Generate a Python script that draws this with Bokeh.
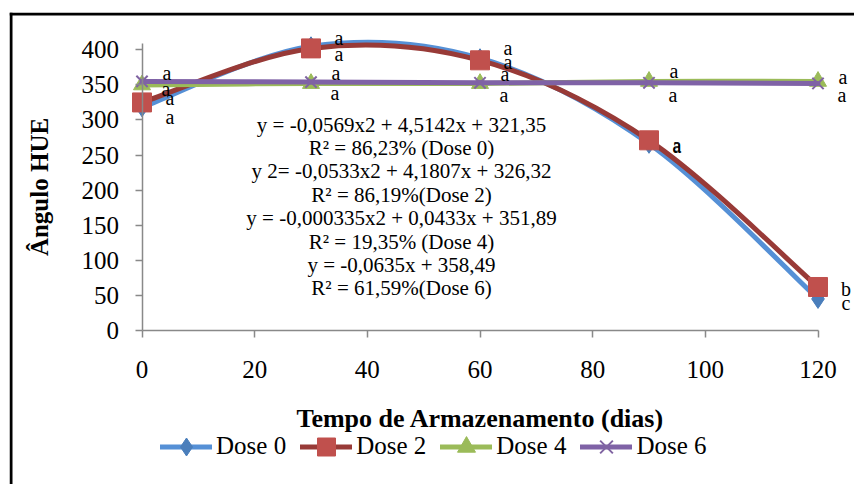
from bokeh.plotting import figure
from bokeh.models import (ColumnDataSource, LinearAxis, FixedTicker, Range1d,
                          Legend, LegendItem, Span)
from bokeh.core.properties import value
from bokeh.embed import file_html
from bokeh.resources import INLINE

# ---------------- data ----------------
days = [0, 30, 60, 90, 120]
dose0 = [318, 405, 388, 266, 45]
dose2 = [325, 402, 385, 271, 62]
dose4 = [350, 352, 352, 355, 355]
dose6 = [355, 354, 353, 353, 352]
letters0 = ["a", "a", "a", "a", "c"]
letters2 = ["a", "a", "a", "a", "b"]
letters4 = ["a", "a", "a", "a", "a"]
letters6 = ["a", "a", "a", "a", "a"]
series_names = ["Dose 0", "Dose 2", "Dose 4", "Dose 6"]
x_ticks = [0, 20, 40, 60, 80, 100, 120]
y_ticks = [0, 50, 100, 150, 200, 250, 300, 350, 400]
eq_lines = [
    "y = -0,0569x2 + 4,5142x + 321,35",
    "R\u00b2 = 86,23% (Dose 0)",
    "y 2= -0,0533x2 + 4,1807x + 326,32",
    "R\u00b2 = 86,19%(Dose 2)",
    "y = -0,000335x2 + 0,0433x + 351,89",
    "R\u00b2 = 19,35% (Dose 4)",
    "y = -0,0635x + 358,49",
    "R\u00b2 = 61,59%(Dose 6)",
]
x_title = "Tempo de Armazenamento (dias)"
y_title = "\u00c2ngulo HUE"

# ---------------- layout / style ----------------
W, H = 854, 484
FRAME_L, FRAME_T = 9, 12
X0_PX, X120_PX = 141.5, 817.5
Y0_PX, Y400_PX = 330.0, 49.3
SX = (X120_PX - X0_PX) / 120.0
SY = (Y0_PX - Y400_PX) / 400.0
Y_AXIS_TOP = (Y0_PX - 43) / SY
FONT = "Liberation Serif"
BORDER_W = 3

line_colors = ["#5590d6", "#983a37", "#9bbb59", "#7f62a6"]
marker_colors = ["#4a7ebb", "#c0504d", "#9bbb59", "#8064a2"]
markers = ["diamond", "square", "triangle", "x"]
marker_sizes = [19, 19, 17, 16]
label_dx = [28, 28, 24, 25]
label_dy = [[10, -8, -10, 2, 4],
            [-4, 6, 2, 5, 2],
            [4, 10, 12, 14, 14],
            [-8, -9, -9, -12, -6]]

x_rng = Range1d(-(X0_PX - FRAME_L) / SX, (W - X0_PX) / SX)
y_rng = Range1d(-(H - Y0_PX) / SY, (Y0_PX - FRAME_T) / SY)
p = figure(width=W, height=H, output_backend="svg", toolbar_location=None,
           title=None, x_axis_type=None, y_axis_type=None,
           x_range=x_rng, y_range=y_rng,
           min_border_left=FRAME_L, min_border_top=FRAME_T,
           min_border_right=0, min_border_bottom=0)
p.xgrid.visible = False
p.ygrid.visible = False
p.outline_line_color = None
p.background_fill_color = "white"
p.border_fill_color = "white"

# chart-area border (only its left and top sides fall inside the picture)
p.add_layout(Span(location=x_rng.start + (BORDER_W / 2) / SX, dimension="height",
                  line_color="black", line_width=BORDER_W))
p.add_layout(Span(location=y_rng.end - (BORDER_W / 2) / SY, dimension="width",
                  line_color="black", line_width=BORDER_W))

def style_axis(ax):
    ax.axis_line_color = "#898989"
    ax.axis_line_width = 1.5
    ax.major_tick_line_color = "#898989"
    ax.major_tick_line_width = 1.5
    ax.major_tick_in = 0
    ax.major_tick_out = 7
    ax.minor_tick_line_color = None
    ax.major_label_text_font = FONT
    ax.major_label_text_font_size = "25px"
    ax.major_label_text_color = "black"
    ax.axis_label_text_font = FONT
    ax.axis_label_text_font_style = "bold"
    ax.axis_label_text_color = "black"

xaxis = LinearAxis(fixed_location=0, bounds=(0, 120),
                   ticker=FixedTicker(ticks=x_ticks), axis_label=x_title)
style_axis(xaxis)
xaxis.major_label_standoff = 23
xaxis.axis_label_standoff = 23
xaxis.axis_label_text_font_size = "26px"
p.add_layout(xaxis, "below")

yaxis = LinearAxis(fixed_location=0, bounds=(0, Y_AXIS_TOP),
                   ticker=FixedTicker(ticks=y_ticks), axis_label=y_title)
style_axis(yaxis)
yaxis.major_label_standoff = 16
yaxis.axis_label_standoff = 26
yaxis.axis_label_text_font_size = "25px"
p.add_layout(yaxis, "left")


def smooth_segments(xs, ys):
    # Bezier control points for a smoothed (Catmull-Rom style) line through the points
    n = len(xs)
    out = dict(x0=[], y0=[], x1=[], y1=[], cx0=[], cy0=[], cx1=[], cy1=[])
    for i in range(n - 1):
        a = max(i - 1, 0)
        d = min(i + 2, n - 1)
        out["x0"].append(xs[i]); out["y0"].append(ys[i])
        out["x1"].append(xs[i + 1]); out["y1"].append(ys[i + 1])
        out["cx0"].append(xs[i] + (xs[i + 1] - xs[a]) / 6.0)
        out["cy0"].append(ys[i] + (ys[i + 1] - ys[a]) / 6.0)
        out["cx1"].append(xs[i + 1] - (xs[d] - xs[i]) / 6.0)
        out["cy1"].append(ys[i + 1] - (ys[d] - ys[i]) / 6.0)
    return out

all_series = [dose0, dose2, dose4, dose6]
all_letters = [letters0, letters2, letters4, letters6]
items = []
for k, ys in enumerate(all_series):
    seg = ColumnDataSource(smooth_segments(days, ys))
    lr = p.bezier(x0="x0", y0="y0", x1="x1", y1="y1", cx0="cx0", cy0="cy0",
                  cx1="cx1", cy1="cy1", source=seg, line_color=line_colors[k],
                  line_width=5, line_cap="round")
    pts = ColumnDataSource(dict(x=days, y=ys))
    if markers[k] == "x":
        mr = p.scatter(x="x", y="y", source=pts, marker="x", size=marker_sizes[k],
                       line_color=marker_colors[k], line_width=2)
    else:
        mr = p.scatter(x="x", y="y", source=pts, marker=markers[k], size=marker_sizes[k],
                       fill_color=marker_colors[k], line_color=marker_colors[k])
    items.append(LegendItem(label=series_names[k], renderers=[lr, mr]))

for k, ys in enumerate(all_series):
    src = ColumnDataSource(dict(x=days, y=ys, t=all_letters[k],
                                dx=[label_dx[k]] * len(days), dy=label_dy[k]))
    p.text(x="x", y="y", text="t", source=src, x_offset="dx", y_offset="dy",
           text_font=value(FONT), text_font_size="20px", text_color="black",
           text_align="center", text_baseline="middle")

EQ_X = (401 - X0_PX) / SX
EQ_Y = (Y0_PX - 124) / SY
eq_src = ColumnDataSource(dict(x=[EQ_X] * len(eq_lines), y=[EQ_Y] * len(eq_lines),
                               t=eq_lines, dy=[i * 23.4 for i in range(len(eq_lines))]))
p.text(x="x", y="y", text="t", source=eq_src, y_offset="dy",
       text_font=value(FONT), text_font_size="21px", text_color="black",
       text_align="center", text_baseline="middle")

legend = Legend(items=items, orientation="horizontal",
                location=(160 - FRAME_L, H - 446 - 22.5),
                glyph_width=52, glyph_height=45, label_standoff=4, spacing=14,
                padding=0, margin=0, border_line_alpha=0, background_fill_alpha=0,
                label_text_font=FONT, label_text_font_size="25px",
                label_text_color="black")
p.add_layout(legend, "center")

open("out.html", "w").write(file_html(p, INLINE))
